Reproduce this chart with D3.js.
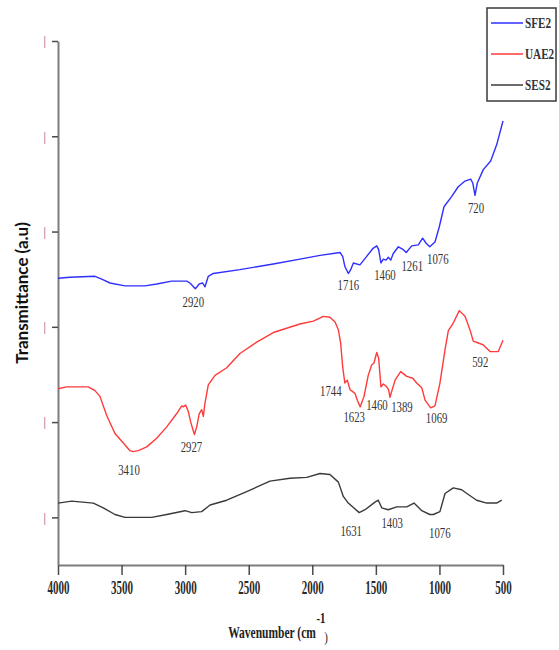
<!DOCTYPE html>
<html>
<head>
<meta charset="utf-8">
<script src="https://cdn.jsdelivr.net/npm/d3@7"></script>
<style>
  html, body { margin: 0; padding: 0; background: #fff; }
  svg { display: block; }
</style>
</head>
<body>
<svg id="chart" width="559" height="650"></svg>
<script>
// FTIR spectra: [wavenumber (cm-1), transmittance (a.u., stacked offsets)]
const sfe2 = [
  [4000,3.01],[3906,3.02],[3709,3.03],[3656,3.00],[3591,2.96],[3473,2.93],[3316,2.93],
  [3224,2.95],[3106,2.98],[2988,2.98],[2962,2.96],[2920,2.90],[2889,2.95],[2862,2.96],
  [2844,2.92],[2818,3.03],[2779,3.06],[2569,3.10],[2307,3.16],[2097,3.21],[1939,3.25],
  [1782,3.28],[1761,3.24],[1743,3.13],[1716,3.06],[1698,3.10],[1677,3.17],[1625,3.15],
  [1572,3.24],[1525,3.32],[1493,3.35],[1478,3.31],[1460,3.17],[1441,3.21],[1420,3.20],
  [1402,3.23],[1383,3.20],[1363,3.27],[1323,3.34],[1284,3.31],[1261,3.28],[1218,3.35],
  [1166,3.36],[1132,3.43],[1106,3.38],[1076,3.34],[1035,3.39],[1001,3.55],[964,3.76],
  [903,3.87],[852,3.97],[799,4.03],[754,4.05],[738,4.01],[720,3.88],[702,4.01],
  [655,4.15],[597,4.24],[550,4.41],[500,4.66]
];
const uae2 = [
  [4000,1.85],[3932,1.87],[3762,1.87],[3709,1.83],[3670,1.77],[3617,1.57],[3552,1.38],
  [3486,1.28],[3434,1.20],[3410,1.19],[3368,1.20],[3302,1.24],[3224,1.33],[3145,1.45],
  [3066,1.59],[3027,1.67],[3014,1.66],[2996,1.68],[2975,1.61],[2956,1.50],[2941,1.43],
  [2927,1.37],[2909,1.45],[2889,1.59],[2870,1.63],[2857,1.56],[2844,1.70],[2818,1.89],
  [2765,1.99],[2673,2.07],[2569,2.22],[2437,2.34],[2307,2.44],[2097,2.53],[1992,2.56],
  [1913,2.61],[1861,2.60],[1821,2.55],[1795,2.47],[1777,2.33],[1761,2.08],[1744,1.91],
  [1725,1.94],[1703,1.84],[1682,1.82],[1664,1.80],[1646,1.73],[1623,1.66],[1593,1.77],
  [1560,1.99],[1533,2.10],[1515,2.12],[1493,2.23],[1478,2.17],[1460,1.87],[1441,1.90],
  [1415,1.87],[1400,1.84],[1389,1.76],[1349,1.94],[1305,2.03],[1257,1.98],[1210,1.96],
  [1179,1.91],[1139,1.86],[1113,1.73],[1069,1.65],[1035,1.67],[996,1.91],[956,2.26],
  [930,2.46],[891,2.54],[844,2.67],[799,2.61],[760,2.47],[734,2.35],[694,2.33],
  [655,2.31],[602,2.24],[537,2.24],[500,2.36]
];
const ses2 = [
  [4000,0.65],[3892,0.67],[3722,0.65],[3644,0.60],[3552,0.53],[3473,0.50],[3263,0.50],
  [3145,0.53],[3001,0.57],[2948,0.55],[2870,0.56],[2804,0.63],[2673,0.68],[2516,0.77],
  [2333,0.88],[2175,0.91],[2044,0.92],[1939,0.96],[1861,0.95],[1795,0.87],[1756,0.72],
  [1717,0.65],[1631,0.55],[1585,0.58],[1507,0.66],[1481,0.68],[1454,0.60],[1403,0.58],
  [1336,0.61],[1257,0.61],[1200,0.65],[1139,0.57],[1076,0.53],[1048,0.53],[996,0.56],
  [956,0.75],[891,0.81],[825,0.79],[773,0.74],[707,0.68],[628,0.65],[550,0.65],[510,0.68]
];

// Band assignments written next to each spectrum
const sfe2Peaks = ["2920","1716","1460","1261","1076","720"];
const uae2Peaks = ["3410","2927","1744","1623","1460","1389","1069","592"];
const ses2Peaks = ["1631","1403","1076"];

const seriesNames = ["SFE2","UAE2","SES2"];
const xTicks = [4000,3500,3000,2500,2000,1500,1000,500];
const xMinorTicks = [3750,3250,2750,2250,1750,1250,750];
const yTicks = [0.5,1.5,2.5,3.5,4.5,5.5];
const yMinorTicks = [0,1,2,3,4,5];

const colors = { SFE2: "#2f2fff", UAE2: "#ff3a3a", SES2: "#3a3a3a" };

const svg = d3.select("#chart");
const x = d3.scaleLinear().domain([4000, 500]).range([58, 503]);
const y = d3.scaleLinear().domain([0, 5.5]).range([565, 41]);

const serif = "'Liberation Serif', 'Times New Roman', serif";

// --- axes ---
const gx = svg.append("g").attr("transform", `translate(0,${y(0)})`);
gx.call(d3.axisBottom(x).tickValues(xMinorTicks).tickSize(6).tickSizeOuter(0).tickFormat(""));
gx.call(d3.axisBottom(x).tickValues(xTicks).tickSize(10).tickSizeOuter(0).tickPadding(6)
  .tickFormat(d3.format("d")));

const gy = svg.append("g").attr("transform", `translate(${x(4000)},0)`);
gy.call(d3.axisLeft(y).tickValues(yMinorTicks).tickSize(3).tickSizeOuter(0).tickFormat(""));
gy.call(d3.axisLeft(y).tickValues(yTicks).tickSize(6).tickSizeOuter(0).tickPadding(6)
  .tickFormat(() => "|"));

svg.selectAll(".domain").attr("stroke", "#7d7d7d").attr("stroke-width", 2);
svg.selectAll(".tick line").attr("stroke", "#4a4a4a").attr("stroke-width", 1.5);

gx.selectAll(".tick text")
  .attr("font-family", serif).attr("font-size", 19).attr("font-weight", "bold")
  .attr("fill", "#2a2a2a").attr("transform", "scale(0.58,1)");

gy.selectAll(".tick text")
  .attr("font-family", serif).attr("font-size", 12)
  .attr("fill", "#6a5470");

// --- axis titles ---
const xt = svg.append("g").attr("transform", "translate(272,638) scale(0.72,1)");
xt.append("text").attr("text-anchor", "middle")
  .attr("font-family", serif).attr("font-weight", "bold").attr("font-size", 16)
  .attr("fill", "#222").text("Wavenumber (cm");
svg.append("g").attr("transform", "translate(321,623) scale(0.72,1)")
  .append("text").attr("text-anchor", "middle")
  .attr("font-family", serif).attr("font-weight", "bold").attr("font-size", 15)
  .attr("fill", "#222").text("-1");
svg.append("g").attr("transform", "translate(326,642) scale(0.72,1)")
  .append("text").attr("text-anchor", "middle")
  .attr("font-family", serif).attr("font-size", 15)
  .attr("fill", "#222").text(")");

svg.append("text")
  .attr("transform", "translate(28,293) rotate(-90)")
  .attr("text-anchor", "middle")
  .attr("font-family", "Lato, 'Open Sans', sans-serif")
  .attr("font-weight", "bold").attr("font-size", 17)
  .attr("fill", "#111").text("Transmittance (a.u)");

// --- spectra ---
const line = d3.line().x(d => x(d[0])).y(d => y(d[1]));
const spectra = { SFE2: sfe2, UAE2: uae2, SES2: ses2 };
seriesNames.forEach(name => {
  svg.append("path").datum(spectra[name])
    .attr("fill", "none").attr("stroke", colors[name])
    .attr("stroke-width", 1.4).attr("stroke-linejoin", "round")
    .attr("d", line);
});

// --- band labels, placed just under the curve at each band ---
function valueAt(series, w) {
  for (let i = 0; i < series.length - 1; i++) {
    const a = series[i], b = series[i + 1];
    if (w <= a[0] && w >= b[0]) {
      const t = (a[0] - w) / (a[0] - b[0]);
      return a[1] + t * (b[1] - a[1]);
    }
  }
  return series[series.length - 1][1];
}
// label nudges (px) relative to the curve point: [dx, dy]
const nudges = {
  "SFE2-2920": [-2, 13], "SFE2-1716": [0, 12], "SFE2-1460": [4, 12],
  "SFE2-1261": [6, 13], "SFE2-1076": [8, 12], "SFE2-720": [1, 13],
  "UAE2-3410": [-4, 18], "UAE2-2927": [-3, 13], "UAE2-1744": [-14, 8],
  "UAE2-1623": [-6, 10], "UAE2-1460": [-4, 18], "UAE2-1389": [12, 10],
  "UAE2-1069": [6, 10], "UAE2-592": [-11, 10],
  "SES2-1631": [-8, 18], "SES2-1403": [4, 13], "SES2-1076": [10, 18]
};
const peaks = { SFE2: sfe2Peaks, UAE2: uae2Peaks, SES2: ses2Peaks };
seriesNames.forEach(name => {
  peaks[name].forEach(lbl => {
    const w = +lbl;
    const [dx, dy] = nudges[`${name}-${lbl}`];
    const cx = x(w) + dx, cy = y(valueAt(spectra[name], w)) + dy;
    svg.append("g").attr("transform", `translate(${cx},${cy + 5}) scale(0.72,1)`)
      .append("text").attr("text-anchor", "middle")
      .attr("font-family", serif).attr("font-size", 15)
      .attr("fill", "#333").text(lbl);
  });
});

// --- legend ---
const lg = svg.append("g");
lg.append("rect").attr("x", 487).attr("y", 8).attr("width", 69).attr("height", 93)
  .attr("fill", "#fff").attr("stroke", "#3a3a3a").attr("stroke-width", 1.5);
seriesNames.forEach((name, i) => {
  const ly = 23 + i * 31;
  lg.append("line").attr("x1", 491).attr("x2", 523).attr("y1", ly).attr("y2", ly)
    .attr("stroke", colors[name]).attr("stroke-width", 1.5);
  lg.append("g").attr("transform", `translate(525,${ly + 5}) scale(0.8,1)`)
    .append("text").attr("font-family", serif).attr("font-weight", "bold")
    .attr("font-size", 14).attr("fill", "#333").text(name);
});
</script>
</body>
</html>
